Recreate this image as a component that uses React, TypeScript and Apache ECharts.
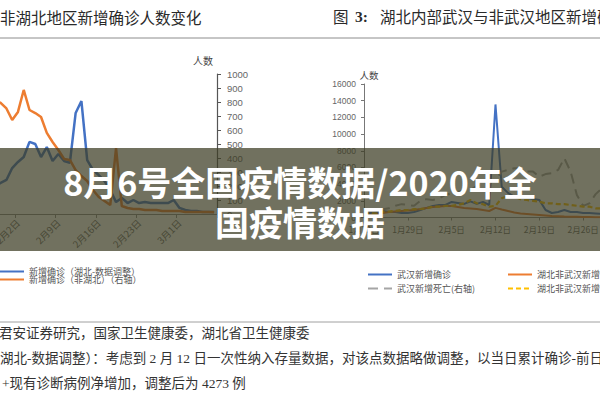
import React, { useEffect, useRef } from "react";
import * as echarts from "echarts";

// ---------- Left chart: 非湖北地区新增确诊人数变化 ----------
const leftDates = [
  "1月29日", "1月30日", "1月31日",
  "2月1日", "2月2日", "2月3日", "2月4日", "2月5日", "2月6日", "2月7日", "2月8日", "2月9日", "2月10日",
  "2月11日", "2月12日", "2月13日", "2月14日", "2月15日", "2月16日", "2月17日", "2月18日", "2月19日", "2月20日",
  "2月21日", "2月22日", "2月23日", "2月24日", "2月25日", "2月26日", "2月27日", "2月28日", "2月29日",
  "3月1日", "3月2日", "3月3日", "3月4日", "3月5日", "3月6日", "3月7日",
];
// 新增确诊（湖北-数据调整）— left axis (cropped)
const hubeiAdjusted = [
  1200, 1330, 1460, 1970, 2230, 2440, 3090, 3000, 2440, 2870,
  2270, 2570, 2270, 2190, 4330, 4840, 2310, 1890, 1670, 1410,
  1030, 510, 690, 470, 600, 470, 510, 470, 470, 470,
  470, 600, 260, 170, 130, 130, 90, 90, 90,
];
// 新增确诊（非湖北）（右轴）
const nonHubei = [
  814, 793, 754, 671, 729, 886, 743, 721, 693, 579,
  514, 457, 393, 386, 314, 271, 236, 171, 121, 93,
  64, 471, 57, 43, 36, 36, 29, 29, 29, 21,
  21, 21, 21, 14, 14, 14, 14, 14, 12,
];

// ---------- Right chart: 图3 湖北内部武汉与非武汉地区 ----------
const rightDates = [
  "1月22日", "1月23日", "1月24日", "1月25日", "1月26日", "1月27日", "1月28日", "1月29日", "1月30日", "1月31日",
  "2月1日", "2月2日", "2月3日", "2月4日", "2月5日", "2月6日", "2月7日", "2月8日", "2月9日", "2月10日",
  "2月11日", "2月12日", "2月13日", "2月14日", "2月15日", "2月16日", "2月17日", "2月18日", "2月19日", "2月20日",
  "2月21日", "2月22日", "2月23日", "2月24日", "2月25日", "2月26日", "2月27日", "2月28日", "2月29日",
  "3月1日", "3月2日", "3月3日",
];
const wuhanConfirmed = [
  420, 540, 660, 780, 660, 660, 540, 540, 660, 900,
  1150, 1390, 1500, 1500, 1870, 1750, 1630, 1930, 1630, 1870,
  1500, 13550, 3680, 2950, 2470, 2350, 2350, 2230, 2110, 900,
  540, 660, 900, 660, 660, 540, 540, 480, 420, 360,
  300, 300,
];
const hubeiOtherConfirmed = [
  180, 300, 420, 540, 660, 720, 780, 840, 900, 1020,
  1150, 1270, 1330, 1390, 1390, 1270, 1150, 1090, 1020, 900,
  780, 1150, 960, 780, 600, 480, 420, 360, 300, 240,
  180, 150, 120, 100, 80, 60, 50, 40, 30, 25,
  20, 15,
];
// right (cropped) axis
const wuhanDeaths = [
  7, 8, 9, 10, 11, 14, 16, 15, 14, 20,
  22, 21, 23, 27, 29, 31, 32, 33, 38, 40,
  41, 45, 55, 57, 59, 59, 55, 55, 49, 52,
  53, 57, 71, 55, 27, 14, 17, 28, 35, 38,
  39, 38,
];
const hubeiOtherDeaths = [
  4, 5, 5, 7, 7, 8, 9, 9, 10, 10,
  11, 13, 13, 14, 14, 15, 17, 21, 17, 16,
  13, 14, 23, 26, 25, 22, 21, 20, 19, 17,
  17, 16, 16, 15, 14, 13, 13, 11, 11, 10,
  10, 10,
];

const N_BLUE_L = "新增确诊（湖北-数据调整）";
const N_ORANGE_L = "新增确诊（非湖北）（右轴）";
const N_WH_C = "武汉新增确诊";
const N_HB_C = "湖北非武汉新增确诊";
const N_WH_D = "武汉新增死亡(右轴)";
const N_HB_D = "湖北非武汉新增死亡(右轴)";

const CJK = "'Noto Sans CJK SC', sans-serif";
const SERIF = "'Liberation Serif', 'Noto Sans CJK SC', serif";
const NUM = "'Liberation Sans', 'Noto Sans CJK SC', sans-serif";

function legendAt(name: string, left: number, top: number, itemWidth: number, itemHeight: number) {
  return {
    data: [{ name, itemStyle: { opacity: 0 } }],
    left,
    top,
    orient: "horizontal",
    itemWidth,
    itemHeight,
    selectedMode: false,
    padding: 0,
    itemStyle: { opacity: 0 },
    textStyle: { fontSize: 9, color: "#555", fontFamily: CJK },
  };
}

export default function App() {
  const ref = useRef<HTMLDivElement>(null);
  useEffect(() => {
    document.body.style.margin = "0";
    const chart = echarts.init(ref.current!, null, { renderer: "svg" });
    const option: any = {
      animation: false,
      backgroundColor: "#ffffff",
      grid: [
        { left: -8, top: 74, width: 225, height: 140, outerBoundsMode: "none", containLabel: false },
        { left: 364, top: 84, width: 256.7, height: 133.5, outerBoundsMode: "none", containLabel: false },
      ],
      xAxis: [
        {
          type: "category",
          gridIndex: 0,
          data: leftDates,
          boundaryGap: true,
          axisLine: { show: true, lineStyle: { color: "#8a8a8a", width: 1 } },
          axisTick: { show: true, length: 4, interval: (i: number) => i % 7 === 4, lineStyle: { color: "#8a8a8a" } },
          axisLabel: {
            interval: (i: number) => i % 7 === 4,
            rotate: 45,
            fontSize: 9.5,
            color: "#666",
            fontFamily: CJK,
            margin: 7,
          },
          splitLine: { show: false },
        },
        {
          type: "category",
          gridIndex: 1,
          data: rightDates,
          boundaryGap: false,
          axisLine: { show: true, lineStyle: { color: "#8a8a8a", width: 1 } },
          axisTick: { show: true, length: 3, interval: (i: number) => i % 7 === 0, lineStyle: { color: "#8a8a8a" } },
          axisLabel: {
            interval: (i: number) => i % 7 === 0,
            fontSize: 8.5,
            color: "#666",
            fontFamily: CJK,
            margin: 7,
          },
          splitLine: { show: false },
        },
      ],
      yAxis: [
        {
          type: "value",
          gridIndex: 0,
          position: "right",
          min: 0,
          max: 1000,
          interval: 100,
          axisLine: { show: true, lineStyle: { color: "#555", width: 1.2 } },
          axisTick: { show: true, length: 4, lineStyle: { color: "#555" } },
          axisLabel: { fontSize: 9.5, color: "#666", fontFamily: NUM, margin: 10, formatter: (v: number) => String(v) },
          splitLine: { show: false },
        },
        { type: "value", gridIndex: 0, position: "left", min: 0, max: 6000, show: false, splitLine: { show: false } },
        {
          type: "value",
          gridIndex: 1,
          position: "left",
          min: 0,
          max: 16000,
          interval: 2000,
          axisLine: { show: true, lineStyle: { color: "#777", width: 1 } },
          axisTick: { show: true, length: 3, lineStyle: { color: "#777" } },
          axisLabel: { fontSize: 8.5, color: "#666", fontFamily: NUM, margin: 8, formatter: (v: number) => String(v) },
          splitLine: { show: false },
        },
        { type: "value", gridIndex: 1, position: "right", min: 0, max: 160, show: false, splitLine: { show: false } },
      ],
      legend: [
        legendAt(N_BLUE_L, -2, 267, 25, 8),
        legendAt(N_ORANGE_L, -2, 275, 25, 8),
        legendAt(N_WH_C, 367, 270, 24, 10),
        legendAt(N_HB_C, 507, 270, 24, 10),
        legendAt(N_WH_D, 367, 284, 24, 10),
        legendAt(N_HB_D, 507, 284, 24, 10),
      ],
      series: [
        {
          name: N_BLUE_L, type: "line", xAxisIndex: 0, yAxisIndex: 1, data: hubeiAdjusted,
          symbol: "none", color: "#4472C4", lineStyle: { color: "#4472C4", width: 2.5 },
        },
        {
          name: N_ORANGE_L, type: "line", xAxisIndex: 0, yAxisIndex: 0, data: nonHubei,
          symbol: "none", color: "#ED7D31", lineStyle: { color: "#ED7D31", width: 2.5 },
        },
        {
          name: N_WH_C, type: "line", xAxisIndex: 1, yAxisIndex: 2, data: wuhanConfirmed,
          symbol: "none", color: "#4472C4", lineStyle: { color: "#4472C4", width: 2 },
        },
        {
          name: N_HB_C, type: "line", xAxisIndex: 1, yAxisIndex: 2, data: hubeiOtherConfirmed,
          symbol: "none", color: "#ED7D31", lineStyle: { color: "#ED7D31", width: 2 },
        },
        {
          name: N_WH_D, type: "line", xAxisIndex: 1, yAxisIndex: 3, data: wuhanDeaths,
          symbol: "none", color: "#A5A5A5", lineStyle: { color: "#A5A5A5", width: 2, type: [10, 6] },
        },
        {
          name: N_HB_D, type: "line", xAxisIndex: 1, yAxisIndex: 3, data: hubeiOtherDeaths,
          symbol: "none", color: "#FFC000", lineStyle: { color: "#FFC000", width: 2.2, type: [5, 3] },
        },
      ],
      graphic: [
        { type: "line", shape: { x1: 0, y1: 38, x2: 600, y2: 38 }, style: { stroke: "#8c8c8c", lineWidth: 1 }, z: 10 },
        { type: "line", shape: { x1: 0, y1: 322, x2: 600, y2: 322 }, style: { stroke: "#a0a0a0", lineWidth: 1 }, z: 10 },
        {
          type: "text", x: 0, y: 17, z: 10,
          style: { text: "非湖北地区新增确诊人数变化", fontSize: 15.5, fontFamily: CJK, fill: "#2a2a2a", textVerticalAlign: "middle" },
        },
        {
          type: "text", x: 333, y: 16, z: 10,
          style: { text: "图", fontSize: 15.5, fontFamily: CJK, fill: "#2a2a2a", textVerticalAlign: "middle" },
        },
        {
          type: "text", x: 355, y: 16, z: 10,
          style: { text: "3:", fontSize: 15.5, fontWeight: "bold", fontFamily: SERIF, fill: "#2a2a2a", textVerticalAlign: "middle" },
        },
        {
          type: "text", x: 380, y: 16, z: 10,
          style: { text: "湖北内部武汉与非武汉地区新增确诊", fontSize: 15.5, fontFamily: CJK, fill: "#2a2a2a", textVerticalAlign: "middle" },
        },
        {
          type: "text", x: 203, y: 60, z: 10,
          style: { text: "人数", fontSize: 10, fontFamily: CJK, fill: "#444", textAlign: "center", textVerticalAlign: "middle" },
        },
        {
          type: "text", x: 369, y: 75, z: 10,
          style: { text: "人数", fontSize: 9.5, fontFamily: CJK, fill: "#444", textAlign: "center", textVerticalAlign: "middle" },
        },
        {
          type: "text", x: -1, y: 333, z: 10,
          style: { text: "君安证券研究，国家卫生健康委，湖北省卫生健康委", fontSize: 13.5, fontFamily: SERIF, fill: "#333", textVerticalAlign: "middle" },
        },
        {
          type: "text", x: 0, y: 358, z: 10,
          style: { text: "湖北-数据调整）：考虑到 2 月 12 日一次性纳入存量数据，对该点数据略做调整，以当日累计确诊-前日", fontSize: 13.5, fontFamily: SERIF, fill: "#333", textVerticalAlign: "middle" },
        },
        {
          type: "text", x: 2, y: 383, z: 10,
          style: { text: "+现有诊断病例净增加，调整后为 4273 例", fontSize: 13.5, fontFamily: SERIF, fill: "#333", textVerticalAlign: "middle" },
        },
        {
          type: "rect", z: 100,
          shape: { x: 0, y: 148, width: 600, height: 103 },
          style: { fill: "rgba(60,60,35,0.73)" },
        },
        {
          type: "text", x: 300, y: 181, z: 101,
          style: { text: "8月6号全国疫情数据/2020年全", fontSize: 34, fontWeight: "bold", fontFamily: CJK, fill: "#ffffff", textAlign: "center", textVerticalAlign: "middle" },
        },
        {
          type: "text", x: 300, y: 221, z: 101,
          style: { text: "国疫情数据", fontSize: 34, fontWeight: "bold", fontFamily: CJK, fill: "#ffffff", textAlign: "center", textVerticalAlign: "middle" },
        },
      ],
    };
    chart.setOption(option);
    return () => chart.dispose();
  }, []);
  return <div ref={ref} style={{ width: 600, height: 400, background: "#fff" }} />;
}
